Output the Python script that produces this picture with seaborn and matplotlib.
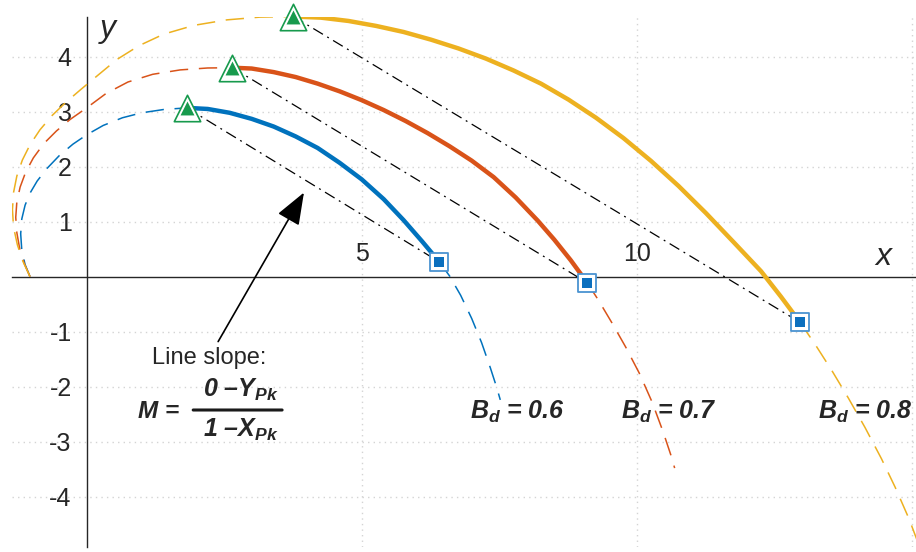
import matplotlib
matplotlib.use("Agg")
import matplotlib.pyplot as plt
import seaborn as sns

# ---- curve data: lead-in (dashed), working section (solid), continuation (dashed)
bd_values = ["0.6", "0.7", "0.8"]

blue_rise_x = [-1.03, -1.12, -1.18, -1.20, -1.18, -1.12, -1.03, -0.90, -0.72, -0.50, -0.25, 0.00, 0.30, 0.65, 1.00, 1.40, 1.82]
blue_rise_y = [0.00, 0.22, 0.48, 0.78, 1.05, 1.30, 1.52, 1.74, 1.97, 2.20, 2.41, 2.58, 2.75, 2.89, 2.98, 3.04, 3.07]
blue_solid_x = [1.82, 2.20, 2.60, 3.00, 3.40, 3.80, 4.20, 4.60, 5.00, 5.40, 5.76, 6.10, 6.41]
blue_solid_y = [3.07, 3.05, 2.98, 2.87, 2.73, 2.55, 2.34, 2.07, 1.77, 1.41, 1.03, 0.64, 0.27]
blue_tail_x = [6.41, 6.60, 6.80, 7.00, 7.18, 7.34, 7.45, 7.52]
blue_tail_y = [0.27, 0.01, -0.34, -0.76, -1.20, -1.66, -2.00, -2.24]

red_rise_x = [-1.03, -1.14, -1.22, -1.27, -1.29, -1.27, -1.21, -1.11, -0.97, -0.78, -0.55, -0.30, 0.00, 0.35, 0.75, 1.20, 1.70, 2.20, 2.65]
red_rise_y = [0.00, 0.25, 0.52, 0.80, 1.08, 1.36, 1.63, 1.90, 2.16, 2.42, 2.65, 2.86, 3.07, 3.33, 3.54, 3.68, 3.76, 3.795, 3.80]
red_solid_x = [2.65, 3.00, 3.40, 3.80, 4.20, 4.60, 5.00, 5.40, 5.80, 6.20, 6.60, 7.00, 7.40, 7.80, 8.20, 8.50, 8.80, 9.10]
red_solid_y = [3.80, 3.785, 3.72, 3.63, 3.51, 3.37, 3.21, 3.03, 2.83, 2.61, 2.37, 2.11, 1.81, 1.44, 1.02, 0.675, 0.30, -0.11]
red_tail_x = [9.10, 9.30, 9.55, 9.80, 10.05, 10.28, 10.48, 10.62, 10.69]
red_tail_y = [-0.11, -0.42, -0.84, -1.28, -1.76, -2.28, -2.82, -3.24, -3.48]

yellow_rise_x = [-1.03, -1.16, -1.26, -1.33, -1.35, -1.33, -1.27, -1.17, -1.03, -0.85, -0.63, -0.38, -0.10, 0.20, 0.55, 0.95, 1.40, 1.95, 2.55, 3.15, 3.76]
yellow_rise_y = [0.00, 0.28, 0.58, 0.90, 1.22, 1.53, 1.83, 2.12, 2.40, 2.67, 2.93, 3.17, 3.41, 3.66, 3.95, 4.20, 4.41, 4.57, 4.67, 4.72, 4.73]
yellow_solid_x = [3.76, 4.26, 4.76, 5.26, 5.76, 6.26, 6.76, 7.26, 7.76, 8.26, 8.76, 9.26, 9.76, 10.26, 10.76, 11.26, 11.76, 12.26, 12.62, 12.97]
yellow_solid_y = [4.73, 4.71, 4.65, 4.56, 4.45, 4.31, 4.15, 3.965, 3.75, 3.51, 3.22, 2.89, 2.52, 2.105, 1.65, 1.155, 0.63, 0.10, -0.36, -0.83]
yellow_tail_x = [12.97, 13.25, 13.55, 13.85, 14.15, 14.45, 14.70, 14.95, 15.15]
yellow_tail_y = [-0.83, -1.24, -1.71, -2.21, -2.74, -3.31, -3.83, -4.40, -4.93]

x_ticks = [5, 10, 15]
x_tick_labels = ["5", "10", ""]
y_ticks = [-4, -3, -2, -1, 1, 2, 3, 4]
y_tick_labels = ["-4", "-3", "-2", "-1", "1", "2", "3", "4"]

curves = [
    (blue_rise_x, blue_rise_y, blue_solid_x, blue_solid_y, blue_tail_x, blue_tail_y),
    (red_rise_x, red_rise_y, red_solid_x, red_solid_y, red_tail_x, red_tail_y),
    (yellow_rise_x, yellow_rise_y, yellow_solid_x, yellow_solid_y, yellow_tail_x, yellow_tail_y),
]
line_colors = ["#0072BD", "#D95319", "#EDB120"]
ink = "#262626"
green = "#179A4D"

sns.set_style("white")
plt.rcParams["font.family"] = ["Liberation Sans", "DejaVu Sans"]
plt.rcParams["mathtext.fontset"] = "custom"
plt.rcParams["mathtext.it"] = "Liberation Sans:italic:bold"
plt.rcParams["mathtext.rm"] = "Liberation Sans:italic:bold"
plt.rcParams["mathtext.bf"] = "Liberation Sans:italic:bold"

fig = plt.figure(figsize=(9.16, 5.52), dpi=100)
ax = fig.add_axes([12 / 916, 5 / 552, 904 / 916, 530 / 552])
ax.set_xlim(-1.358, 15.078)
ax.set_ylim(-4.915, 4.722)

dash = (0, (12, 7))
dashdot = (0, (9, 4, 1.5, 4))

peak_x, peak_y, end_x, end_y = [], [], [], []
for (rx, ry, sx, sy, tx, ty), c in zip(curves, line_colors):
    sns.lineplot(x=rx, y=ry, sort=False, estimator=None, color=c, lw=1.1,
                 linestyle=dash, ax=ax, zorder=3)
    sns.lineplot(x=tx, y=ty, sort=False, estimator=None, color=c, lw=1.1,
                 linestyle=dash, ax=ax, zorder=3)
    sns.lineplot(x=sx, y=sy, sort=False, estimator=None, color=c, lw=3.2,
                 ax=ax, zorder=4, solid_joinstyle="round")
    peak_x.append(sx[0]); peak_y.append(sy[0])
    end_x.append(sx[-1]); end_y.append(sy[-1])
    # chord from the peak to the end of the working section
    sns.lineplot(x=[sx[0], sx[-1]], y=[sy[0], sy[-1]], sort=False, estimator=None,
                 color="black", lw=0.9, linestyle=dashdot, ax=ax, zorder=3.5)

# peak markers (triangles) and end markers (squares)
sns.scatterplot(x=peak_x, y=peak_y, marker="^", s=19 ** 2, color="white",
                edgecolor=green, linewidth=1.2, ax=ax, zorder=6, clip_on=False)
sns.scatterplot(x=peak_x, y=peak_y, marker="^", s=10 ** 2, color=green,
                edgecolor=green, linewidth=0, ax=ax, zorder=7, clip_on=False)
sns.scatterplot(x=end_x, y=end_y, marker="s", s=13 ** 2, color="white",
                edgecolor="#4A93D1", linewidth=1.3, ax=ax, zorder=6, clip_on=False)
sns.scatterplot(x=end_x, y=end_y, marker="s", s=7.5 ** 2, color="#0B6FBE",
                edgecolor="#0B6FBE", linewidth=0, ax=ax, zorder=7, clip_on=False)

# axes through the origin
for side in ["top", "right"]:
    ax.spines[side].set_visible(False)
ax.spines["left"].set_position(("data", 0))
ax.spines["bottom"].set_position(("data", 0))
for side in ["left", "bottom"]:
    ax.spines[side].set_color(ink)
    ax.spines[side].set_linewidth(1.0)
    ax.spines[side].set_zorder(2.5)

ax.set_xticks(x_ticks)
ax.set_xticklabels(x_tick_labels)
ax.set_yticks(y_ticks)
ax.set_yticklabels(y_tick_labels)
ax.tick_params(axis="y", direction="in", length=7.2, width=1.0, pad=10.8,
               labelsize=18, colors=ink)
ax.tick_params(axis="x", direction="out", length=7.2, width=1.0, pad=-32.4,
               labelsize=18, colors=ink)
ax.set_axisbelow(True)
ax.grid(True, linestyle=(0, (1, 3)), color="#d4d4d4", lw=1.0)
ax.set_xlabel("")
ax.set_ylabel("")

ax.text(14.48, 0.213, "x", fontsize=23, style="italic", color=ink,
        ha="center", va="baseline")
ax.text(0.387, 4.36, "y", fontsize=23, style="italic", color=ink,
        ha="center", va="baseline")

# B_d labels
for xpos, v in zip([6.96, 9.72, 13.297], bd_values):
    ax.text(xpos, -2.59, r"$B_d$ = " + v, fontsize=18, fontweight="bold",
            style="italic", color=ink, ha="left", va="baseline")

# slope annotation
ax.annotate("", xy=(3.95, 1.53), xytext=(2.39, -1.18),
            arrowprops=dict(arrowstyle="-|>,head_length=1.0,head_width=0.38",
                            mutation_scale=20, lw=1.2, color="black",
                            shrinkA=0, shrinkB=0), zorder=5)
ax.text(2.227, -1.478, "Line slope:", fontsize=17, color=ink,
        ha="center", va="center")
ax.text(0.935, -2.575, "M =", fontsize=17.5, fontweight="bold", style="italic",
        color=ink, ha="left", va="baseline")
ax.text(2.118, -2.18, r"0 –$Y_{Pk}$", fontsize=18, fontweight="bold",
        style="italic", color=ink, ha="left", va="baseline")
ax.text(2.118, -2.91, r"1 –$X_{Pk}$", fontsize=18, fontweight="bold",
        style="italic", color=ink, ha="left", va="baseline")
ax.annotate("", xy=(3.553, -2.424), xytext=(1.936, -2.424),
            arrowprops=dict(arrowstyle="-", lw=2.2, color="#1a1a1a",
                            shrinkA=0, shrinkB=0))

fig.savefig("out.png", dpi=100)
